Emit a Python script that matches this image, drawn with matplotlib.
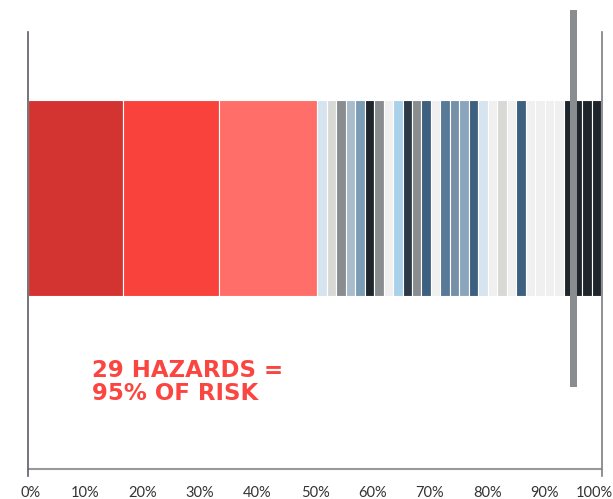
import matplotlib
matplotlib.use("Agg")
import matplotlib.pyplot as plt
from matplotlib.transforms import ScaledTranslation

# ---- data -------------------------------------------------------------
hazard_shares = [16.6, 16.7, 17.1,
                 1.65, 1.65, 1.65, 1.65, 1.65, 1.65, 1.65, 1.65, 1.65, 1.65,
                 1.65, 1.65, 1.65, 1.65, 1.65, 1.65, 1.65, 1.65, 1.65, 1.65,
                 1.65, 1.65, 1.65, 1.65, 1.65, 1.65, 1.65, 1.65, 1.65, 1.65]
hazard_colors = ["#d43431", "#fa423d", "#ff6e68",
                 "#d6e4f0", "#d8d8d4", "#8a8d8f", "#a9bccb", "#7b9cb5",
                 "#1f262b", "#8a8d8f", "#f0f0f0", "#a9d2ea", "#2d3a45",
                 "#8a8d8f", "#3d6080", "#f0f0f0", "#587a98", "#7690a8",
                 "#8ba6bc", "#3d6080", "#d6e4f0", "#f0f0f0", "#d8d8d4",
                 "#f0f0f0", "#3d6080", "#f0f0f0", "#f0f0f0", "#f0f0f0",
                 "#f0f0f0", "#1f262b", "#1f262b", "#1f262b", "#1f262b"]
risk_threshold = 95
tick_values = [0, 10, 20, 30, 40, 50, 60, 70, 80, 90, 100]
tick_labels = ["0%", "10%", "20%", "30%", "40%", "50%", "60%", "70%", "80%", "90%", "100%"]
annotation = "29 HAZARDS =\n95% OF RISK"

# ---- figure -----------------------------------------------------------
W, H, DPI = 613, 499, 100
fig = plt.figure(figsize=(W / DPI, H / DPI), dpi=DPI)
ax = fig.add_axes([28 / W, (H - 476) / H, (602 - 28) / W, (476 - 32) / H])
ax.set_xlim(0, 100)
ax.set_ylim(0, 444)

lefts = []
acc = 0.0
for s in hazard_shares:
    lefts.append(acc)
    acc += s
ax.barh(278, hazard_shares, left=lefts, height=196, color=hazard_colors,
        edgecolor="white", linewidth=0.8, zorder=2)

# 95% marker
ax.bar(risk_threshold, 377, bottom=89, width=1.3, color="#8a8d8f",
       clip_on=False, zorder=3)

# axis styling
for side in ("top", "bottom"):
    ax.spines[side].set_visible(False)
ax.spines["left"].set_color("#5a5f66")
ax.spines["left"].set_linewidth(1.2)
ax.spines["right"].set_color("#7a7d80")
ax.spines["right"].set_linewidth(1.2)
ax.axhline(7, color="#999999", lw=1.5, zorder=1)
ax.set_yticks([])
ax.set_xticks(tick_values)
ax.set_xticklabels(tick_labels, fontsize=10.5, color="#333333", family="Lato")
ax.tick_params(axis="x", length=0, pad=7)
labels = ax.get_xticklabels()
labels[0].set_transform(labels[0].get_transform() + ScaledTranslation(3 / DPI, 0, fig.dpi_scale_trans))
labels[-1].set_transform(labels[-1].get_transform() + ScaledTranslation(-8 / DPI, 0, fig.dpi_scale_trans))

ax.text(11.15, 117, annotation, va="top", ha="left", fontsize=16.5,
        fontweight="bold", color="#fb4541", family="DejaVu Sans",
        linespacing=1.0)

fig.savefig("out.png", dpi=DPI)
